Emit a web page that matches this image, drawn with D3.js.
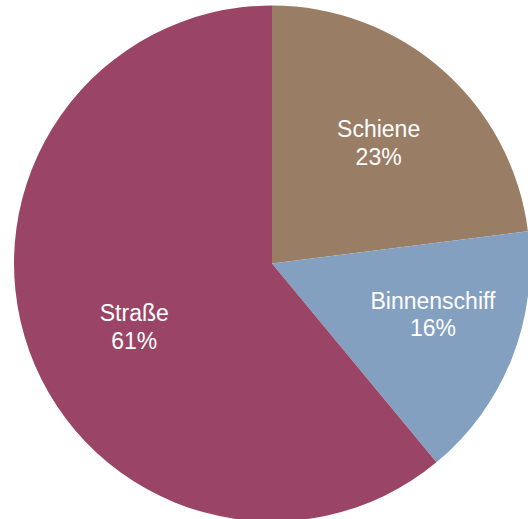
<!DOCTYPE html>
<html>
<head>
<meta charset="utf-8">
<script src="https://cdn.jsdelivr.net/npm/d3@7"></script>
<style>
  html, body { margin: 0; padding: 0; background: #ffffff; }
  svg { display: block; }
</style>
</head>
<body>
<svg id="chart" width="528" height="519"></svg>
<script>
const categories = ["Schiene", "Binnenschiff", "Straße"];
const values = [23, 16, 61];
const colors = ["#9A7D65", "#84A0C0", "#9B4566"];

const width = 528, height = 519;
const cx = 272, cy = 263.5, radius = 258;

// small label nudges (pixels) relative to the slice centroid, mimicking the original placement
const labelNudge = { "Schiene": [0, 0], "Binnenschiff": [11, -9], "Straße": [14, 8] };

const svg = d3.select("#chart");
const g = svg.append("g").attr("transform", `translate(${cx},${cy})`);

const data = categories.map((c, i) => ({ name: c, value: values[i], color: colors[i] }));

const pie = d3.pie().value(d => d.value).sort(null);
const arc = d3.arc().innerRadius(0).outerRadius(radius);
const labelArc = d3.arc().innerRadius(radius * 0.625).outerRadius(radius * 0.625);

const arcs = pie(data);

g.selectAll("path.slice")
  .data(arcs)
  .join("path")
  .attr("class", "slice")
  .attr("d", arc)
  .attr("fill", d => d.data.color);

const fontSize = 23;
const labels = g.selectAll("text.label")
  .data(arcs)
  .join("text")
  .attr("class", "label")
  .attr("transform", d => {
    const [x, y] = labelArc.centroid(d);
    const [nx, ny] = labelNudge[d.data.name] || [0, 0];
    return `translate(${x + nx},${y + ny})`;
  })
  .attr("text-anchor", "middle")
  .attr("fill", "#ffffff")
  .style("font-family", "Liberation Sans, Arial, sans-serif")
  .style("font-size", fontSize + "px");

labels.append("tspan")
  .attr("x", 0)
  .attr("dy", "-0.22em")
  .text(d => d.data.name);
labels.append("tspan")
  .attr("x", 0)
  .attr("dy", "1.2em")
  .text(d => d.data.value + "%");
</script>
</body>
</html>
